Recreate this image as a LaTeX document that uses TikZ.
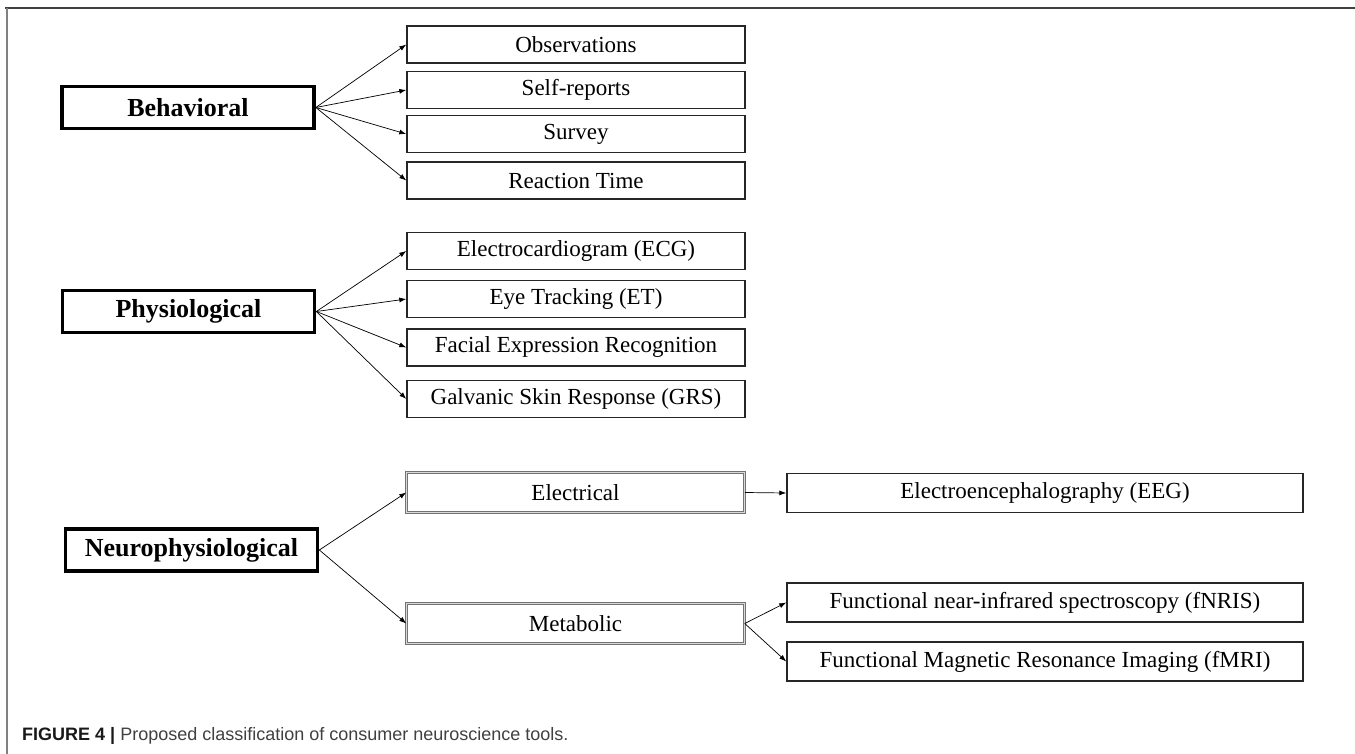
\documentclass[tikz,border=0pt]{standalone}
\usepackage{fontspec}
\setmainfont{Liberation Serif}
\setsansfont{Liberation Sans}
\usetikzlibrary{arrows.meta}

\begin{document}
\begin{tikzpicture}
  \tikzset{
    catnode/.style={
      rectangle,
      draw=black,
      line width=1.3mm,
      minimum width=252pt,
      minimum height=42pt,
      inner sep=0pt,
      font=\bfseries\fontsize{26}{26}\selectfont,
      text centered
    },
    toolnode/.style={
      rectangle,
      draw=black!85,
      line width=0.5mm,
      minimum width=338pt,
      minimum height=37pt,
      inner sep=0pt,
      font=\fontsize{23}{23}\selectfont,
      text centered
    },
    midnode/.style={
      toolnode,
      draw=black!55,
      double=black!15,
      double distance=1.2pt,
      line width=0.5pt,
      minimum height=40pt
    },
    widenode/.style={
      toolnode,
      minimum width=516pt,
      minimum height=39pt
    },
    myarrow/.style={
      line width=0.25mm,
      -{Latex[length=7pt,width=5pt]}
    }
  }

  \useasboundingbox (0pt, 0pt) rectangle (1355pt, -754pt);

  % frame
  \draw[black!75, line width=0.5mm] (5pt, -8pt) -- (1355pt, -8pt);
  \draw[black!50, line width=0.5mm] (7pt, -8pt) -- (7pt, -754pt);

  % behavioral
  \node[catnode] (Beh) at (188pt, -107.5pt) {Behavioral};
  \node[toolnode] (Obs) at (576pt, -44.5pt) {Observations};
  \node[toolnode] (Self) at (576pt, -90pt) {Self-reports};
  \node[toolnode] (Surv) at (576pt, -134pt) {Survey};
  \node[toolnode] (React) at (576pt, -180.5pt) {Reaction Time};

  \draw[myarrow] (Beh.east) -- (Obs.west);
  \draw[myarrow] (Beh.east) -- (Self.west);
  \draw[myarrow] (Beh.east) -- (Surv.west);
  \draw[myarrow] (Beh.east) -- (React.west);

  % physiological
  \node[catnode] (Phys) at (188.5pt, -311.5pt) {Physiological};
  \node[toolnode] (ECG) at (576pt, -251pt) {Electrocardiogram (ECG)};
  \node[toolnode] (ET) at (576pt, -299pt) {Eye Tracking (ET)};
  \node[toolnode] (FER) at (576pt, -347.5pt) {Facial Expression Recognition};
  \node[toolnode] (GRS) at (576pt, -399pt) {Galvanic Skin Response (GRS)};

  \draw[myarrow] (Phys.east) -- (ECG.west);
  \draw[myarrow] (Phys.east) -- (ET.west);
  \draw[myarrow] (Phys.east) -- (FER.west);
  \draw[myarrow] (Phys.east) -- (GRS.west);

  % neurophysiological
  \node[catnode] (Neuro) at (191.5pt, -550pt) {Neurophysiological};
  \node[midnode] (Elec) at (575.5pt, -492.5pt) {Electrical};
  \node[midnode] (Meta) at (575.5pt, -623.5pt) {Metabolic};
  \node[widenode] (EEG) at (1045pt, -493pt) {Electroencephalography (EEG)};
  \node[widenode] (fNRIS) at (1045pt, -602.5pt) {Functional near-infrared spectroscopy (fNRIS)};
  \node[widenode] (fMRI) at (1045pt, -661.5pt) {Functional Magnetic Resonance Imaging (fMRI)};

  \draw[myarrow] (Neuro.east) -- (Elec.west);
  \draw[myarrow] (Neuro.east) -- (Meta.west);
  \draw[myarrow] (Elec.east) -- (EEG.west);
  \draw[myarrow] (Meta.east) -- (fNRIS.west);
  \draw[myarrow] (Meta.east) -- (fMRI.west);

  % caption
  \node[anchor=west, inner sep=0pt, font=\sffamily\fontsize{18}{18}\selectfont] (Cap) at (22pt, -736pt)
    {\textcolor{black!90}{\textbf{FIGURE 4 |}} \textcolor{black!75}{Proposed classification of consumer neuroscience tools.}};
\end{tikzpicture}
\end{document}
